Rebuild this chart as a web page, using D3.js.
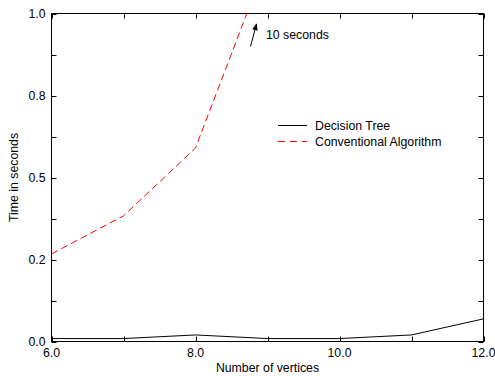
<!DOCTYPE html>
<html><head><meta charset="utf-8">
<script src="https://cdn.jsdelivr.net/npm/d3@7"></script>
<style>body{margin:0;background:#fff}svg{display:block}text{font-family:"Liberation Sans",Arial,Helvetica,sans-serif;fill:#000}</style>
</head><body><svg id="c" width="495" height="376"></svg>
<script>
const vertices = [6, 7, 8, 9, 10, 11, 12];
const decisionTree = [0.009, 0.009, 0.02, 0.009, 0.009, 0.02, 0.069];
const convVertices = [6, 7, 8, 9];
const conventional = [0.267, 0.383, 0.59, 1.165];
const xTicks = [6, 7, 8, 9, 10, 11, 12];
const xLabelTicks = [6, 8, 10, 12];
const yTicks = [0, 0.125, 0.25, 0.375, 0.5, 0.625, 0.75, 0.875, 1.0];
const yLabelTicks = [0, 0.25, 0.5, 0.75, 1.0];
const yLabelText = ["0.0", "0.2", "0.5", "0.8", "1.0"];
const seriesNames = ["Decision Tree", "Conventional Algorithm"];

const FS = 12.3;
const svg = d3.select("#c");
const L = 51.5, R = 483.5, T = 13.5, B = 341.5;
const x = d3.scaleLinear().domain([6, 12]).range([L, R]);
const y = d3.scaleLinear().domain([0, 1]).range([B, T]);
const tl = 5;

svg.append("defs").append("clipPath").attr("id", "clip")
  .append("rect").attr("x", L).attr("y", T).attr("width", R - L).attr("height", B - T);

// frame
svg.append("rect").attr("x", L).attr("y", T).attr("width", R - L).attr("height", B - T)
  .attr("fill", "none").attr("stroke", "#000").attr("stroke-width", 1);

// ticks (inward, mirrored)
const tg = svg.append("g").attr("stroke", "#000").attr("stroke-width", 1);
xTicks.forEach(v => {
  const px = Math.round(x(v)) + 0.5;
  tg.append("line").attr("x1", px).attr("x2", px).attr("y1", B).attr("y2", B - tl);
  tg.append("line").attr("x1", px).attr("x2", px).attr("y1", T).attr("y2", T + tl);
});
yTicks.forEach(v => {
  const py = Math.round(y(v)) + 0.5;
  tg.append("line").attr("y1", py).attr("y2", py).attr("x1", L).attr("x2", L + tl);
  tg.append("line").attr("y1", py).attr("y2", py).attr("x1", R).attr("x2", R - tl);
});

// tick labels
xLabelTicks.forEach(v => {
  svg.append("text").attr("x", x(v)).attr("y", B + 15.5).attr("text-anchor", "middle")
    .attr("font-size", FS).text(d3.format(".1f")(v));
});
yLabelTicks.forEach((v, i) => {
  svg.append("text").attr("x", L - 6).attr("y", y(v) + 4.5).attr("text-anchor", "end")
    .attr("font-size", FS).text(yLabelText[i]);
});

// axis titles
svg.append("text").attr("x", (L + R) / 2).attr("y", 372).attr("text-anchor", "middle")
  .attr("font-size", FS).text("Number of vertices");
svg.append("text").attr("transform", `translate(18,${(T + B) / 2}) rotate(-90)`)
  .attr("text-anchor", "middle").attr("font-size", FS).text("Time in seconds");

// series
const line = d3.line().x(d => x(d[0])).y(d => y(d[1]));
const plot = svg.append("g").attr("clip-path", "url(#clip)");
plot.append("path").datum(vertices.map((v, i) => [v, decisionTree[i]]))
  .attr("d", line).attr("fill", "none").attr("stroke", "#000").attr("stroke-width", 1);
plot.append("path").datum(convVertices.map((v, i) => [v, conventional[i]]))
  .attr("d", line).attr("fill", "none").attr("stroke", "#ff0000").attr("stroke-width", 1)
  .attr("stroke-dasharray", "7,4");

// annotation arrow
svg.append("defs").append("marker").attr("id", "ah").attr("viewBox", "0 0 10 10")
  .attr("refX", 9).attr("refY", 5).attr("markerWidth", 7).attr("markerHeight", 7)
  .attr("orient", "auto").append("path").attr("d", "M0,1 L10,5 L0,9 Z").attr("fill", "#000");
svg.append("line").attr("x1", 250.5).attr("y1", 46.5).attr("x2", 256.5).attr("y2", 24)
  .attr("stroke", "#000").attr("stroke-width", 1).attr("marker-end", "url(#ah)");
svg.append("text").attr("x", 266).attr("y", 38.5).attr("font-size", FS).text("10 seconds");

// legend
const lg = svg.append("g");
seriesNames.forEach((n, i) => {
  const ly = 125 + i * 16;
  lg.append("line").attr("x1", 278).attr("x2", 307).attr("y1", ly + 0.5).attr("y2", ly + 0.5)
    .attr("stroke", i === 0 ? "#000" : "#ff0000").attr("stroke-width", 1)
    .attr("stroke-dasharray", i === 0 ? null : "7,5");
  lg.append("text").attr("x", 315).attr("y", ly + 4.5).attr("font-size", FS).text(n);
});
</script></body></html>
